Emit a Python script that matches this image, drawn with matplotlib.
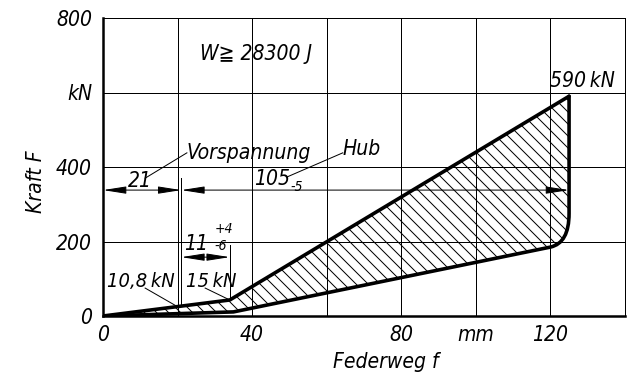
import matplotlib
matplotlib.use('Agg')
import matplotlib.pyplot as plt
from matplotlib.path import Path
from matplotlib.patches import PathPatch

plt.rcParams['font.family'] = ['DejaVu Sans']
plt.rcParams['font.style'] = 'italic'
plt.rcParams['font.stretch'] = 'condensed'
plt.rcParams['hatch.linewidth'] = 1.0

# Federkennlinie: Belastung (oben), Entlastung (unten)
upper_f = [0, 34, 125]
upper_F = [0, 43, 590]
lower_f = [0, 35, 120]
lower_F = [0, 11, 185]
# Abrundung der Entlastungslinie: Kontrollpunkt, Bogenende, Spitze
knee_f = [125, 125, 125]
knee_F = [196, 275, 590]

x_ticks = [0, 20, 40, 60, 80, 100, 120, 140]
x_labels = ['0', '', '40', '', '80', 'mm', '120', '']
y_ticks = [0, 200, 400, 600, 800]
y_labels = ['0', '200', '400', 'kN', '800']

preload = 21      # Vorspannung
f_kink = 34
f_end = 125
dim_y = 338
dim_y_small = 158

FS = 21
FS_SMALL = 14

fig = plt.figure(figsize=(633 / 72, 380 / 72), dpi=72)
ax = fig.add_axes([103 / 633, 64 / 380, 522 / 633, 298 / 380])
ax.set_xlim(0, 140)
ax.set_ylim(0, 800)

ax.set_xticks(x_ticks)
ax.set_xticklabels(x_labels, fontsize=FS)
ax.set_yticks(y_ticks)
ax.set_yticklabels(y_labels, fontsize=FS)
ax.tick_params(length=0)
ax.tick_params(axis='x', pad=9)
ax.tick_params(axis='y', pad=11)
ax.grid(True, color='black', lw=1.0)
ax.set_axisbelow(True)
for side in ['left', 'bottom']:
    ax.spines[side].set_linewidth(2.5)
for side in ['top', 'right']:
    ax.spines[side].set_linewidth(1.0)

# Kennlinien als Pfade
up_verts = list(zip(upper_f, upper_F))
up_codes = [Path.MOVETO] + [Path.LINETO] * (len(up_verts) - 1)
lo_verts = list(zip(lower_f, lower_F)) + list(zip(knee_f, knee_F))
lo_codes = ([Path.MOVETO] + [Path.LINETO] * (len(lower_f) - 1)
            + [Path.CURVE3, Path.CURVE3, Path.LINETO])

# Arbeitsflaeche (schraffiert): oben hin, unten zurueck
area_verts = up_verts + [lo_verts[-2], lo_verts[-3], lo_verts[-4]] + lo_verts[-5::-1] + [(0, 0)]
area_codes = ([Path.MOVETO] + [Path.LINETO] * (len(up_verts) - 1)
              + [Path.LINETO, Path.CURVE3, Path.CURVE3]
              + [Path.LINETO] * (len(lower_f) - 1) + [Path.CLOSEPOLY])
ax.add_patch(PathPatch(Path(area_verts, area_codes), facecolor='none',
                       edgecolor='black', lw=0, hatch='\\\\'))

ax.add_patch(PathPatch(Path(up_verts, up_codes), fill=False, lw=3.6,
                       capstyle='round', joinstyle='round'))
ax.add_patch(PathPatch(Path(lo_verts, lo_codes), fill=False, lw=3.6,
                       capstyle='round', joinstyle='round'))

# Masslinien
def dim(x0, x1, y):
    ax.annotate('', xy=(x1, y), xytext=(x0, y),
                arrowprops=dict(arrowstyle='<|-|>,head_length=1.4,head_width=0.22',
                                mutation_scale=14, lw=1.0, color='black',
                                shrinkA=0, shrinkB=0))

dim(0, preload, dim_y)
dim(preload, f_end, dim_y)
dim(preload, f_kink, dim_y_small)

# Hilfslinien
ax.plot([preload, preload], [370, 26], color='black', lw=1.0)
ax.plot([f_kink, f_kink], [190, 43], color='black', lw=1.0)

# Hinweislinien
ax.plot([11.3, 22.5], [370, 438], color='black', lw=1.0)
ax.plot([49.3, 64.3], [373, 438], color='black', lw=1.0)
ax.plot([11.3, 19.3], [75, 29], color='black', lw=1.0)
ax.plot([27.4, f_kink], [75, 43], color='black', lw=1.0)

# Beschriftungen
ax.text(41, 703, 'W\u2267 28300 J', fontsize=FS, ha='center', va='center')
ax.text(120, 615, '590\u2009kN', fontsize=FS, ha='left', va='baseline')
ax.text(22.5, 421, 'Vorspannung', fontsize=FS, ha='left', va='baseline')
ax.text(64.1, 432, 'Hub', fontsize=FS, ha='left', va='baseline')
ax.text(6.7, 346, '21', fontsize=FS, ha='left', va='baseline')
ax.text(40.5, 352, '105', fontsize=FS, ha='left', va='baseline')
ax.text(50.3, 336, '-5', fontsize=FS_SMALL, ha='left', va='baseline')
ax.text(21.8, 177, '11', fontsize=FS, ha='left', va='baseline')
ax.text(30.0, 222, '+4', fontsize=FS_SMALL, ha='left', va='baseline')
ax.text(30.0, 177, '-6', fontsize=FS_SMALL, ha='left', va='baseline')
ax.text(1.2, 78, '10,8\u2009kN', fontsize=20, ha='left', va='baseline')
ax.text(22.3, 78, '15\u2009kN', fontsize=20, ha='left', va='baseline')

ax.text(-0.128, 0.45, 'Kraft F', fontsize=FS, rotation=90,
        ha='center', va='center', transform=ax.transAxes)
ax.text(0.542, -0.121, 'Federweg f', fontsize=FS, ha='center', va='top',
        transform=ax.transAxes)

fig.savefig('out.png', dpi=72, facecolor='white')
